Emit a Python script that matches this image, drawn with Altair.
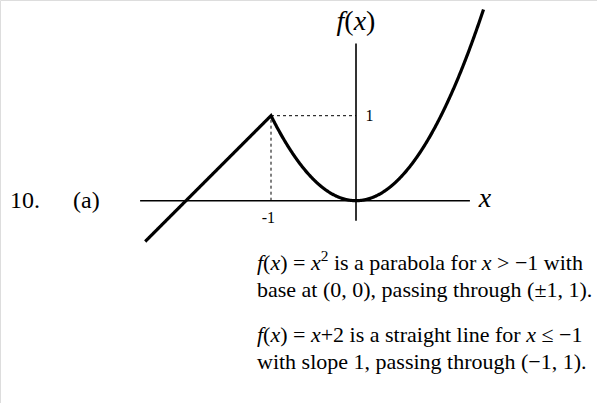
import altair as alt
import pandas as pd

# Piecewise function: f(x) = x + 2 for x <= -1, f(x) = x^2 for x > -1
x_start, x_break, x_end, x_step = -2.48, -1.0, 1.5, 0.005

# Axis extents (data units)
x_axis = [-2.54, 1.34]
y_axis = [-0.235, 1.85]

# Reference point (-1, 1)
peak_x, peak_y = -1, 1

# Plot window in data units
x_dom = [-4.188, 2.835]
y_dom = [-2.38, 2.361]

W, H = 597, 403
SERIF = "Liberation Serif"

# Advance widths (em) of the serif face, used to set runs of mixed roman / italic text
ROMAN = {" ": .25, "(": .333, ")": .333, "+": .564, ",": .25, "-": .333, ".": .25,
         "=": .564, ">": .564, "−": .564, "≤": .549, "±": .564,
         "a": .444, "b": .5, "c": .444, "d": .5, "e": .444, "f": .333, "g": .5,
         "h": .5, "i": .278, "j": .278, "k": .5, "l": .278, "m": .778, "n": .5,
         "o": .5, "p": .5, "q": .5, "r": .333, "s": .389, "t": .278, "u": .5,
         "v": .5, "w": .722, "x": .5, "y": .5, "z": .444}
ITALIC = {"f": .278, "x": .444}
SUP = 0.7


def run_width(text, style, size):
    table = ITALIC if style == "i" else ROMAN
    scale = SUP if style == "s" else 1.0
    return sum(table.get(c, .5) for c in text) * size * scale


def set_runs(pieces, x0, y, size, anchor="left"):
    total = sum(run_width(t, s, size) for t, s in pieces)
    x = x0 - total / 2 if anchor == "center" else x0
    rows = []
    for t, s in pieces:
        fs = size * SUP if s == "s" else size
        yy = y - size * 0.33 if s == "s" else y
        # SVG drops leading/trailing blanks, so shift the run past them instead
        lead = run_width(t[: len(t) - len(t.lstrip(" "))], s, size)
        rows.append({"t": t.strip(" "), "style": s, "px": x + lead, "py": yy, "fs": fs})
        x += run_width(t, s, size)
    return rows


xs = alt.Scale(domain=x_dom, nice=False, zero=False)
ys = alt.Scale(domain=y_dom, nice=False, zero=False)
X = lambda f: alt.X(f, type="quantitative", scale=xs, axis=None)
Y = lambda f: alt.Y(f, type="quantitative", scale=ys, axis=None)

curve = (
    alt.Chart(alt.sequence(x_start, x_end + x_step / 2, x_step, as_="x"))
    .transform_calculate(y=f"datum.x <= {x_break} ? datum.x + 2 : datum.x * datum.x")
    .mark_line(color="black", strokeWidth=3.2, strokeJoin="miter")
    .encode(x=X("x"), y=Y("y"), order="x:Q")
)

axes_df = pd.DataFrame({
    "x": [x_axis[0], 0], "x2": [x_axis[1], 0],
    "y": [0, y_axis[0]], "y2": [0, y_axis[1]],
})
axes = alt.Chart(axes_df).mark_rule(color="black", strokeWidth=1.6).encode(
    x=X("x"), x2="x2", y=Y("y"), y2="y2"
)

guides_df = pd.DataFrame({
    "x": [peak_x, peak_x], "x2": [0, peak_x],
    "y": [peak_y, 0], "y2": [peak_y, peak_y],
})
guides = alt.Chart(guides_df).mark_rule(
    color="black", strokeWidth=1, strokeDash=[3, 3]
).encode(x=X("x"), x2="x2", y=Y("y"), y2="y2")

tick_labels = pd.DataFrame({
    "x": [0.16, -1.03], "y": [1, -0.2], "t": ["1", "-1"],
})
ticks = alt.Chart(tick_labels).mark_text(
    font=SERIF, fontSize=16, color="black"
).encode(x=X("x"), y=Y("y"), text="t:N")

# Text runs: axis names, item label and the notes below the graph
fx = [("f", "i"), ("(", "r"), ("x", "i"), (")", "r")]
notes_pieces = [
    [("f", "i"), ("(", "r"), ("x", "i"), (") = ", "r"), ("x", "i"), ("2", "s"),
     (" is a parabola for ", "r"), ("x", "i"), (" > −1 with", "r")],
    [("base at (0, 0), passing through (±1, 1).", "r")],
    [("f", "i"), ("(", "r"), ("x", "i"), (") = ", "r"), ("x", "i"),
     ("+2 is a straight line for ", "r"), ("x", "i"), (" ≤ −1", "r")],
    [("with slope 1, passing through (−1, 1).", "r")],
]
notes_y = [263, 290, 335, 362]

rows = []
rows += set_runs(fx, 356, 22, 28, anchor="center")
rows += set_runs([("x", "i")], 485, 199, 28, anchor="center")
rows += set_runs([("10.", "r")], 10, 201, 24)
rows += set_runs([("(a)", "r")], 73, 201, 24)
for pieces, y in zip(notes_pieces, notes_y):
    rows += set_runs(pieces, 257, y, 22)
runs = pd.DataFrame(rows)

base = alt.Chart(runs).encode(
    x=alt.X("px:Q", scale=None), y=alt.Y("py:Q", scale=None),
    text="t:N", size=alt.Size("fs:Q", scale=None, legend=None),
)
roman = base.transform_filter("datum.style != 'i'").mark_text(
    font=SERIF, color="black", align="left", baseline="middle"
)
italic = base.transform_filter("datum.style == 'i'").mark_text(
    font=SERIF, fontStyle="italic", color="black", align="left", baseline="middle"
)

chart = (
    alt.layer(axes, guides, curve, ticks, roman, italic)
    .properties(width=W, height=H, padding=0, autosize=alt.AutoSizeParams(type="none"))
    .configure_view(stroke=None)
    .configure(background="white")
)

chart.save("out.html", embed_options={"renderer": "svg", "actions": False})
